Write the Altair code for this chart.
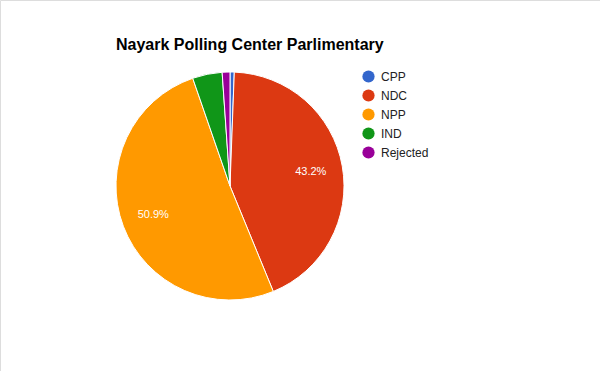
import altair as alt
import pandas as pd

parties = ["CPP", "NDC", "NPP", "IND", "Rejected"]
shares = [0.6, 43.2, 50.9, 4.2, 1.1]
colors = ["#3366cc", "#dc3912", "#ff9900", "#109618", "#990099"]

df = pd.DataFrame({"party": parties, "share": shares, "idx": list(range(len(parties)))})
df["label"] = df["share"].map(lambda v: f"{v:.1f}%")

base = alt.Chart(df).encode(
    theta=alt.Theta("share:Q", stack=True),
    order=alt.Order("idx:Q"),
)

pie = base.mark_arc(outerRadius=114, stroke="white", strokeWidth=1).encode(
    x=alt.value(230),
    y=alt.value(186),
    color=alt.Color(
        "party:N",
        scale=alt.Scale(domain=parties, range=colors),
        sort=parties,
        legend=alt.Legend(
            title=None,
            orient="none",
            legendX=362,
            legendY=70,
            symbolType="circle",
            symbolSize=150,
            symbolStrokeWidth=0,
            labelFont="Arial",
            labelFontSize=12,
            labelColor="#222222",
            rowPadding=6,
            labelOffset=6,
        ),
    ),
)

labels = base.mark_text(radius=82, color="white", font="Arial", fontSize=11).encode(
    x=alt.value(230),
    y=alt.value(186),
    text=alt.condition(alt.datum.share > 5, "label:N", alt.value("")),
)

chart = (
    alt.layer(pie, labels)
    .properties(
        width=600,
        height=371,
        autosize=alt.AutoSizeParams(type="none"),
        padding=0,
        title=alt.TitleParams(
            "Nayark Polling Center Parlimentary",
            anchor="start",
            frame="group",
            dx=116,
            dy=53,
            offset=0,
            font="Arial",
            fontSize=16,
            fontWeight="bold",
            color="#000000",
        ),
    )
    .configure_view(stroke=None)
    .configure(background="white")
)

chart.save("out.html", embed_options={"renderer": "svg", "actions": False})
